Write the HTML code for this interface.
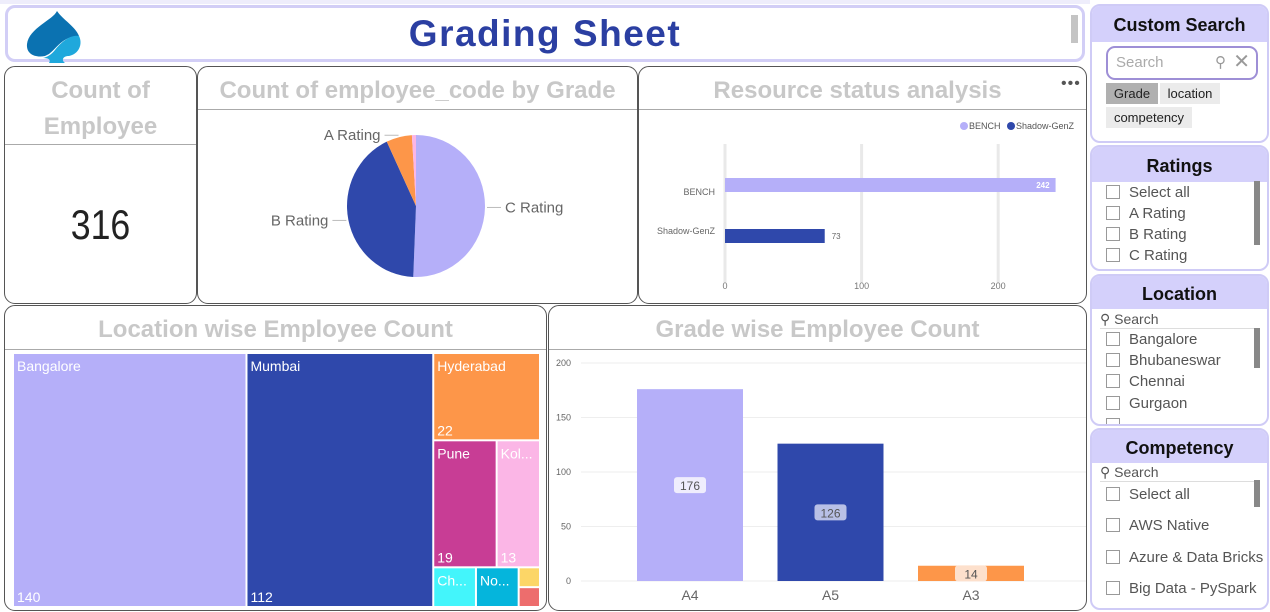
<!DOCTYPE html>
<html><head><meta charset="utf-8"><style>
*{box-sizing:border-box;margin:0;padding:0}
body{width:1270px;height:612px;background:#fff;font-family:"Liberation Sans",sans-serif;position:relative;overflow:hidden}
.abs{position:absolute}
.card{position:absolute;border:1px solid #555;border-radius:11px;background:#fff}
.ttl{position:absolute;left:0;right:0;text-align:center;color:#c8c8c8;font-weight:bold;font-size:24px}
.div{position:absolute;left:0;right:0;height:1px;background:#aaa}
.pan{position:absolute;left:1090px;width:179px;border:2px solid #cfcbf6;border-radius:10px;background:#fff;overflow:hidden}
.ph{position:absolute;left:0;right:0;top:0;background:#d4d0fb;text-align:center;font-weight:bold;font-size:18px;color:#111}
.it{position:absolute;left:14px;font-size:15px;color:#555;height:16px;line-height:16px}
.it i{display:inline-block;width:14px;height:14px;border:1px solid #999;vertical-align:-2px;margin-right:9px}
.sb{position:absolute;left:162px;width:6px;background:#888}
.chip{position:absolute;font-size:13px;color:#222;text-align:center;line-height:21px;height:21px}
svg text{font-family:"Liberation Sans",sans-serif}
</style></head><body>
<div class="abs" style="left:0;top:0;width:1090px;height:4px;background:#eeedfb"></div>

<div class="abs" style="left:5px;top:5px;width:1080px;height:57px;border:3px solid #d2cef6;border-radius:10px;background:#fff">
  <svg class="abs" style="left:15px;top:0" width="60" height="56" viewBox="0 0 60 56">
    <path d="M34 3 C30 12 6 20 4 36 C3 46 12 50 22 48 L26 46 C34 40 40 28 56 28 C52 18 40 12 34 3Z" fill="#0b72b1"/>
    <path d="M56 28 C48 26 38 34 32 42 C28 47 24 49 20 50 C26 50 28 52 26 55 L42 55 C38 52 40 48 46 48 C56 46 60 36 56 28Z" fill="#1fa8dc"/>
  </svg>
  <div class="abs" style="left:0;right:0;top:5px;text-align:center;font-size:37px;font-weight:bold;color:#2b3fa2;letter-spacing:1.5px">Grading Sheet</div>
  <div class="abs" style="left:1063px;top:7px;width:7px;height:28px;background:#c4c4c4"></div>
</div>

<div class="card" style="left:4px;top:66px;width:193px;height:238px">
  <div class="ttl" style="top:6px;line-height:36px">Count of<br>Employee</div>
  <div class="div" style="top:77px"></div>
  <div class="abs" style="left:0;right:0;top:134px;text-align:center;font-size:42px;color:#222;transform:scaleX(0.85)">316</div>
</div>

<div class="card" style="left:197px;top:66px;width:441px;height:238px">
  <div class="ttl" style="top:10px">Count of employee_code by Grade</div>
  <div class="div" style="top:42px"></div>
  <svg id="pie" class="abs" style="left:0;top:0" width="441" height="238"></svg>
</div>

<div class="card" style="left:638px;top:66px;width:449px;height:238px">
  <div class="ttl" style="top:10px;left:-10px">Resource status analysis</div>
  <div class="abs" style="left:422px;top:8px;font-size:16px;color:#555;letter-spacing:1px">•••</div>
  <div class="div" style="top:42px"></div>
  <svg id="hbar" class="abs" style="left:0;top:0" width="449" height="238"></svg>
</div>

<div class="card" style="left:4px;top:305px;width:543px;height:306px">
  <div class="ttl" style="top:10px">Location wise Employee Count</div>
  <div class="div" style="top:43px"></div>
  <svg id="tree" class="abs" style="left:0;top:0" width="543" height="306"></svg>
</div>

<div class="card" style="left:548px;top:305px;width:539px;height:306px">
  <div class="ttl" style="top:10px">Grade wise Employee Count</div>
  <div class="div" style="top:43px"></div>
  <svg id="col" class="abs" style="left:0;top:0" width="539" height="306"></svg>
</div>

<div class="pan" style="top:4px;height:139px">
  <div class="ph" style="height:36px;line-height:38px">Custom Search</div>
  <div class="abs" style="left:14px;top:40px;width:152px;height:34px;border:2px solid #9e8fd6;border-radius:9px;font-size:15px;color:#aaa;line-height:30px;padding-left:8px">Search
    <span style="position:absolute;right:30px;top:0;color:#999;font-size:15px">&#9906;</span>
    <span style="position:absolute;right:6px;top:-1px;color:#999;font-size:20px">&#10005;</span></div>
  <div class="chip" style="left:14px;top:77px;width:52px;background:#b0b0b0">Grade</div>
  <div class="chip" style="left:68px;top:77px;width:60px;background:#ebebeb">location</div>
  <div class="chip" style="left:14px;top:101px;width:86px;background:#ebebeb">competency</div>
</div>

<div class="pan" style="top:145px;height:126px">
  <div class="ph" style="height:35px;line-height:38px">Ratings</div>
  <div class="it" style="top:38px"><i></i>Select all</div>
  <div class="it" style="top:59px"><i></i>A Rating</div>
  <div class="it" style="top:80px"><i></i>B Rating</div>
  <div class="it" style="top:101px"><i></i>C Rating</div>
  <div class="sb" style="top:34px;height:64px"></div>
</div>

<div class="pan" style="top:274px;height:152px">
  <div class="ph" style="height:33px;line-height:36px">Location</div>
  <div class="abs" style="left:8px;top:35px;width:160px;height:18px;border-bottom:1px solid #ddd;font-size:14px;color:#555">&#9906; Search</div>
  <div class="it" style="top:56px"><i></i>Bangalore</div>
  <div class="it" style="top:77px"><i></i>Bhubaneswar</div>
  <div class="it" style="top:98px"><i></i>Chennai</div>
  <div class="it" style="top:120px"><i></i>Gurgaon</div>
  <div class="it" style="top:142px"><i></i></div>
  <div class="sb" style="top:52px;height:40px"></div>
</div>

<div class="pan" style="top:428px;height:182px">
  <div class="ph" style="height:33px;line-height:36px">Competency</div>
  <div class="abs" style="left:8px;top:34px;width:160px;height:18px;border-bottom:1px solid #ddd;font-size:14px;color:#555">&#9906; Search</div>
  <div class="it" style="top:57px"><i></i>Select all</div>
  <div class="it" style="top:88px"><i></i>AWS Native</div>
  <div class="it" style="top:120px"><i></i>Azure &amp; Data Bricks</div>
  <div class="it" style="top:151px"><i></i>Big Data - PySpark</div>
  <div class="sb" style="top:50px;height:27px"></div>
</div>

<script>
const NS="http://www.w3.org/2000/svg";
function mk(p,t,a){const e=document.createElementNS(NS,t);for(const k in a)e.setAttribute(k,a[k]);p.appendChild(e);return e;}

const pieLabels=["C Rating","B Rating","A Rating","Other"];
const pieValues=[160,134,19,3];
const pieColors=["#b5aff9","#2f48ab","#fd9649","#fbb6e6"];
const resCats=["BENCH","Shadow-GenZ"];
const resValues=[242,73];
const resTicks=[0,100,200];
const treeNames=["Bangalore","Mumbai","Hyderabad","Pune","Kolkata","Chennai","Noida","Other1","Other2"];
const treeValues=[140,112,22,19,13,4,4,1,1];
const colCats=["A4","A5","A3"];
const colValues=[176,126,14];
const colTicks=[0,50,100,150,200];

(function(){
 const s=document.getElementById('pie');const cx=218,cy=139,rx=69,ry=71;
 const tot=pieValues.reduce((a,b)=>a+b,0);let a0=0;
 const pt=(a,r1,r2)=>[cx+r1*Math.sin(a),cy-r2*Math.cos(a)];
 pieValues.forEach((v,i)=>{
  const a1=a0+v/tot*2*Math.PI;const p0=pt(a0,rx,ry),p1=pt(a1,rx,ry);
  const p=mk(s,'path',{d:`M${cx},${cy}L${p0[0]},${p0[1]}A${rx},${ry} 0 ${a1-a0>Math.PI?1:0} 1 ${p1[0]},${p1[1]}Z`,fill:pieColors[i]});
  
  
  if(i<3){const m=(a0+a1)/2;const q=pt(m,rx+2,ry+2);const right=Math.sin(m)>0;
   const q2=[q[0]+(right?14:-14),q[1]];
   mk(s,'polyline',{points:`${q[0]},${q[1]} ${q2[0]},${q2[1]}`,fill:'none',stroke:'#bbb'});
   const t=mk(s,'text',{x:q2[0]+(right?4:-4),y:q2[1]+5,'text-anchor':right?'start':'end','font-size':15,fill:'#666'});
   t.textContent=pieLabels[i];
   
   }
  a0=a1;});
})();

(function(){
 const s=document.getElementById('hbar');const x0=86,k=1.366;const X=v=>x0+v*k;
 resTicks.forEach(t=>{mk(s,'line',{x1:X(t),x2:X(t),y1:77,y2:216,stroke:'#e9e9e9','stroke-width':3});
  const l=mk(s,'text',{x:X(t),y:222,'text-anchor':'middle','font-size':9,fill:'#777'});l.textContent=t;
  
  });
 const cols=["#b5aff9","#2f48ab"];const ys=[111,162];
 resValues.forEach((v,i)=>{const r=mk(s,'rect',{x:x0,y:ys[i],width:v*k,height:14,fill:cols[i]});
  
  
  const c=mk(s,'text',{x:76,y:i==0?128:167,'text-anchor':'end','font-size':9,fill:'#666'});c.textContent=resCats[i];
  
  
  const inside=v*k>200;
  const l=mk(s,'text',{x:inside?X(v)-6:X(v)+7,y:ys[i]+10,'text-anchor':inside?'end':'start','font-size':8,'font-weight':inside?'bold':'normal',fill:inside?'#fff':'#666'});l.textContent=v;
  
  });
 const lg=[["BENCH","#b5aff9",325],["Shadow-GenZ","#2f48ab",372]];
 lg.forEach(e=>{mk(s,'circle',{cx:e[2],cy:59,r:4,fill:e[1]});const t=mk(s,'text',{x:e[2]+5,y:62,'font-size':9,fill:'#555'});t.textContent=e[0];
  
  });
})();

(function(){
 const s=document.getElementById('tree');
 const cols=["#b5aff9","#2f48ab","#fd9649","#c83d95","#fbb6e6","#43f5fb","#05b5dc","#fcd667","#ed6d6d"];
 const groups=[[0],[1],[[2],[3,4],[5,6,[7,8]]]];
 const val=g=>Array.isArray(g)?g.reduce((a,b)=>a+val(b),0):treeValues[g];
 function lay(items,x,y,w,h,horiz){const tot=items.reduce((a,b)=>a+val(b),0);let o=0;
  items.forEach(it=>{const f=val(it)/tot;const r=horiz?[x+o*w,y,f*w,h]:[x,y+o*h,w,f*h];o+=f;
   if(Array.isArray(it)){if(it.length==1&&!Array.isArray(it[0]))draw(it[0],...r);else lay(it,...r,!horiz);}else draw(it,...r);});}
 function draw(i,x,y,w,h){const r=mk(s,'rect',{x:x+1,y:y+1,width:Math.max(w-2,0),height:Math.max(h-2,0),fill:cols[i]});
  
  
  if(w>30&&h>30){const nm=treeNames[i];const maxc=Math.floor((w-8)/7);
   const t=mk(s,'text',{x:x+4,y:y+18,'font-size':14,fill:'#fff'});t.textContent=nm.length>maxc?nm.slice(0,Math.max(maxc-2,2))+'...':nm;
   
   
   if(h>60){const v=mk(s,'text',{x:x+4,y:y+h-5,'font-size':14,fill:'#fff'});v.textContent=treeValues[i];
    
    }}}
 lay(groups,8,47,527,254,true);
})();

(function(){
 const s=document.getElementById('col');const y0=275,k=1.09;const Y=v=>y0-v*k;
 colTicks.forEach(t=>{mk(s,'line',{x1:32,x2:537,y1:Y(t),y2:Y(t),stroke:'#eee'});
  const l=mk(s,'text',{x:22,y:Y(t)+3,'text-anchor':'end','font-size':9,fill:'#666'});l.textContent=t;
  
  });
 const cols=["#b5aff9","#2f48ab","#fd9649"];const bw=106,step=140.5,bx0=88;
 const lbf=["#efedfd","#b8c0e6","#fde0cc"];
 colValues.forEach((v,i)=>{const x=bx0+i*step;
  const r=mk(s,'rect',{x:x,y:Y(v),width:bw,height:v*k,fill:cols[i]});
  
  
  const cy=Y(v/2);mk(s,'rect',{x:x+bw/2-16,y:cy-8,width:32,height:16,rx:3,fill:lbf[i]});
  const t=mk(s,'text',{x:x+bw/2,y:cy+5,'text-anchor':'middle','font-size':12,fill:'#555'});t.textContent=v;
  
  
  const c=mk(s,'text',{x:x+bw/2,y:294,'text-anchor':'middle','font-size':14,fill:'#666'});c.textContent=colCats[i];
  
  });
})();
</script>
</body></html>
